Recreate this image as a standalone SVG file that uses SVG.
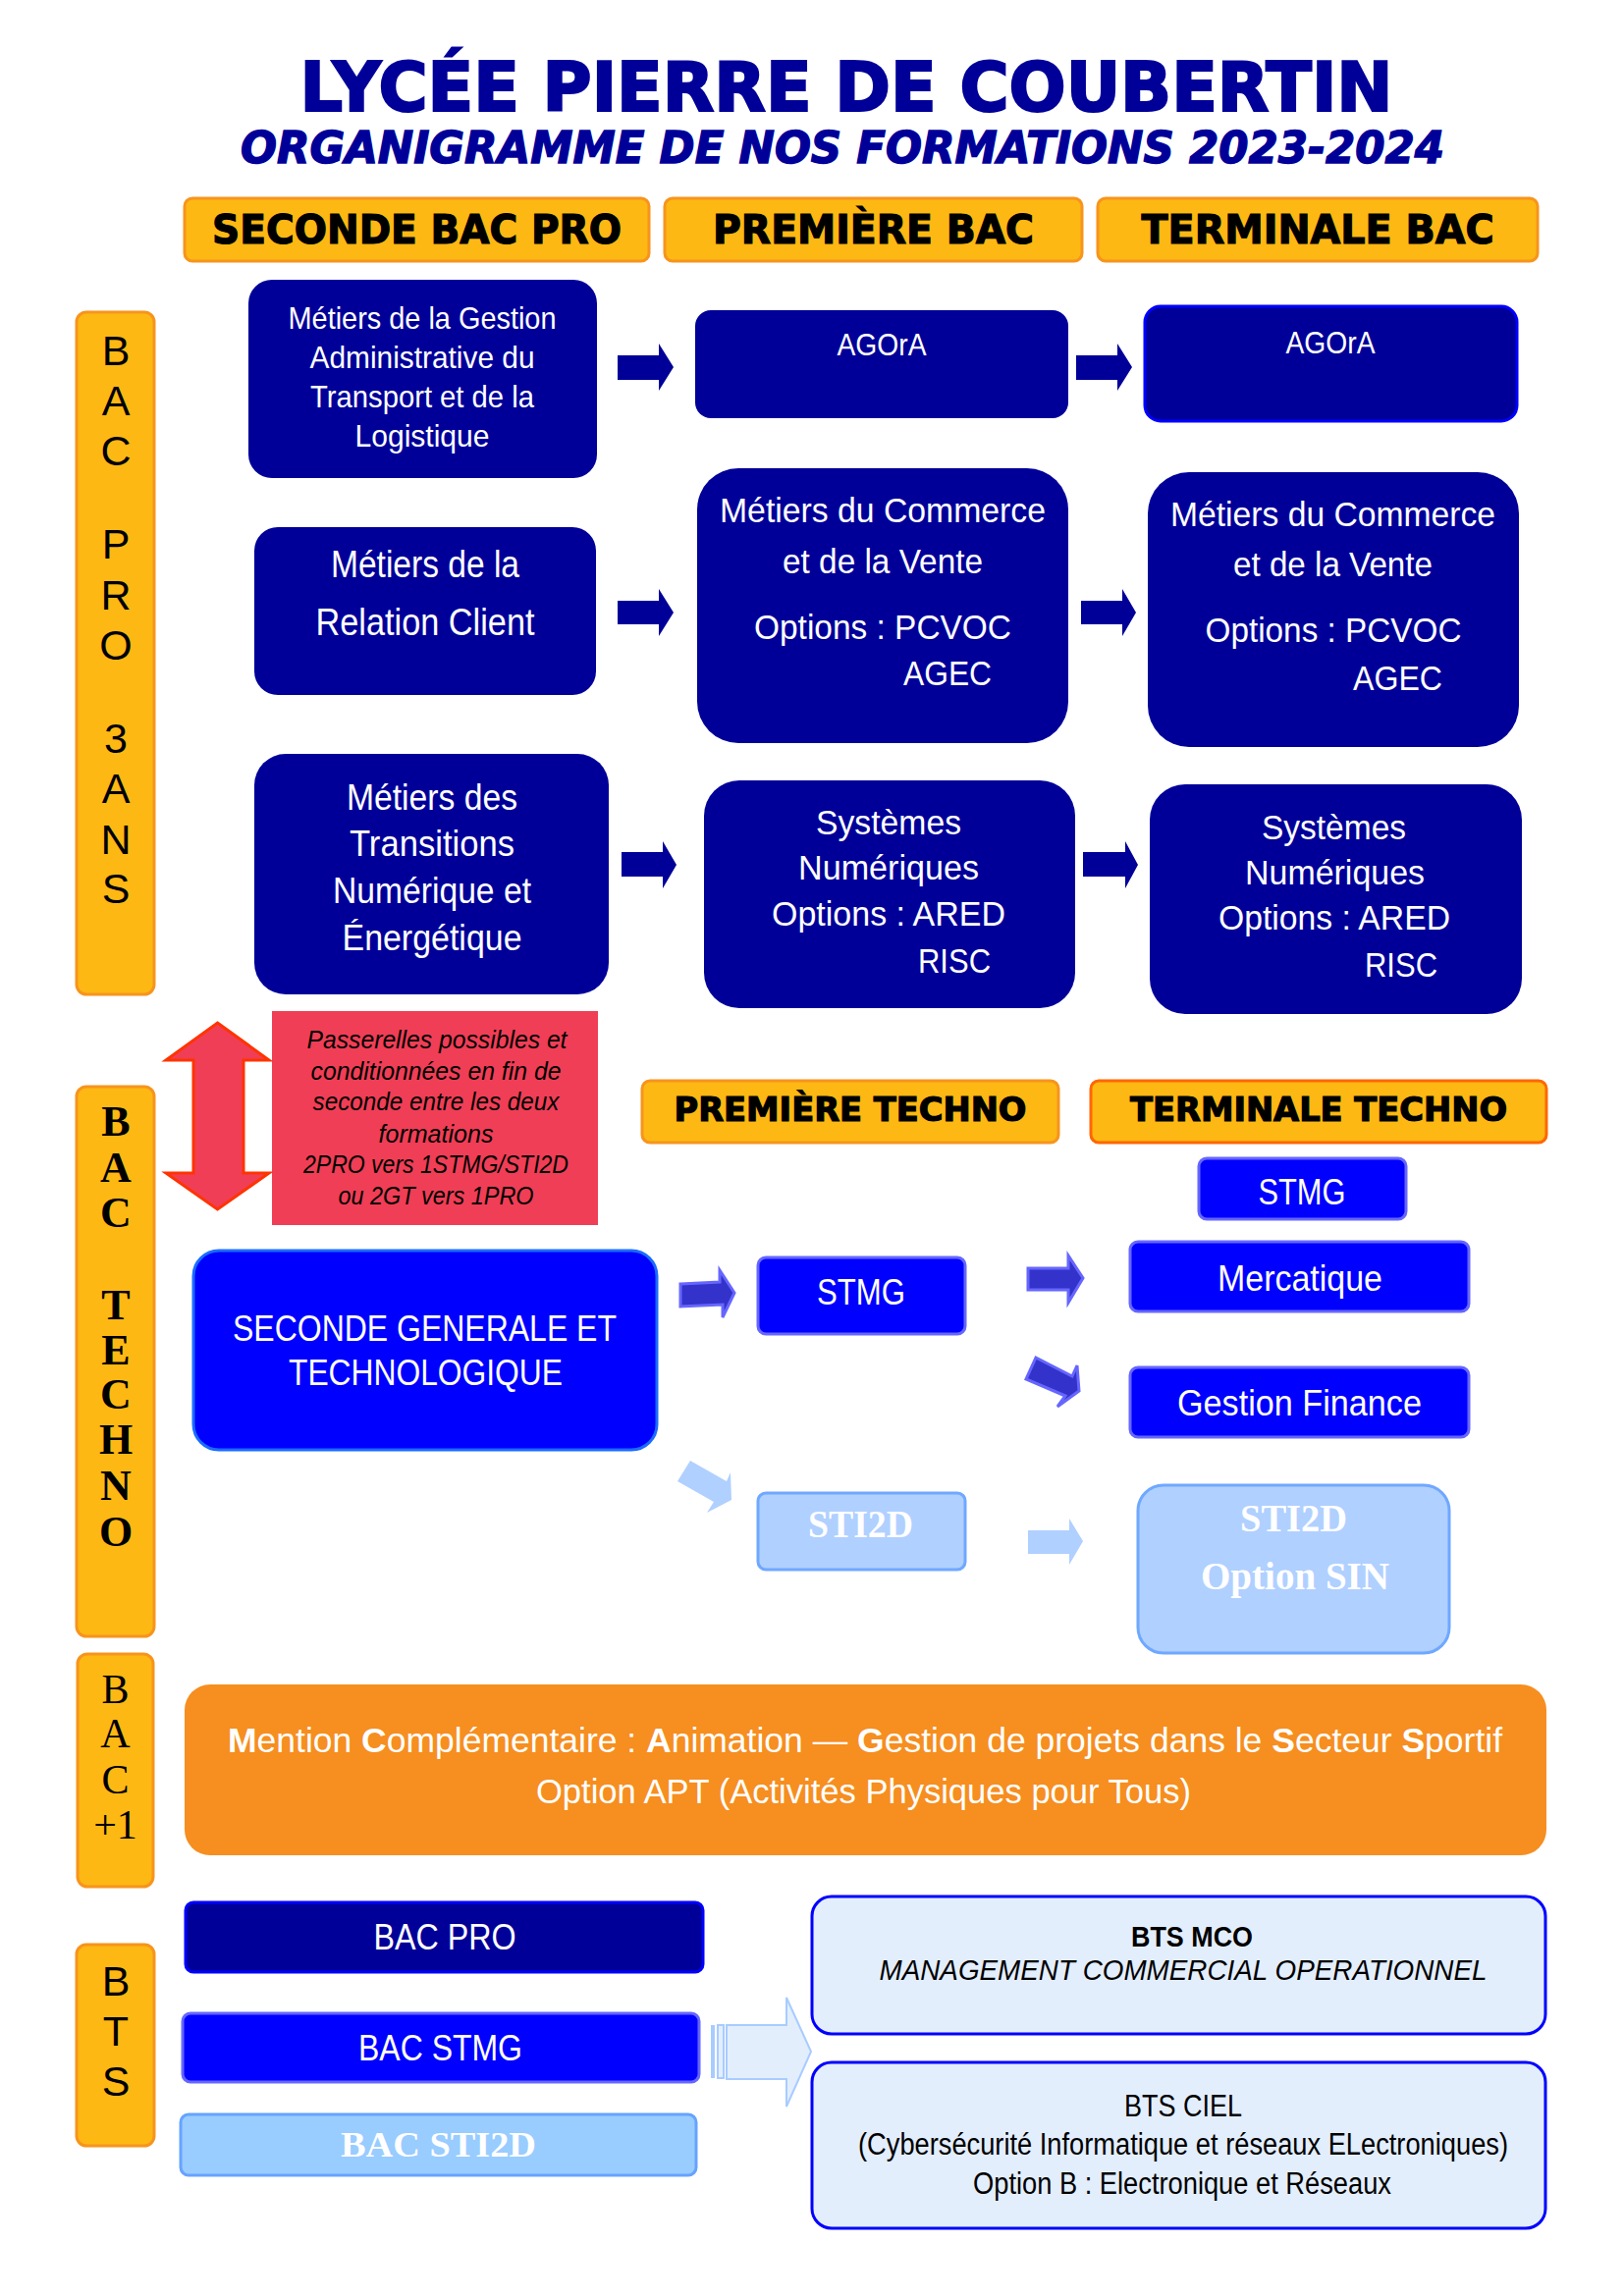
<svg xmlns="http://www.w3.org/2000/svg" width="1654" height="2339" viewBox="0 0 1654 2339">
<style>
.bg{fill:#fff}
.hdr{fill:#FDB813;stroke:#F7941D;stroke-width:3}
.side{fill:#FDB813;stroke:#F7941D;stroke-width:3}
.navy{fill:#000099}
.blue{fill:#0000FF;stroke:#6666FF;stroke-width:3}
.light{fill:#B0D0FF;stroke:#6FA8FF;stroke-width:3}
.t{font-family:"Liberation Sans",Arial,sans-serif;fill:#fff;text-anchor:middle}
.h{font-family:"DejaVu Sans","Liberation Sans",sans-serif;font-weight:bold;fill:#000;stroke:#000;stroke-width:1.2;text-anchor:middle}
.sl{font-family:"Liberation Sans",Arial,sans-serif;fill:#000;text-anchor:middle;font-size:43px}
.ss{font-family:"Liberation Serif","Times New Roman",serif;fill:#000;text-anchor:middle}
.sw{font-family:"Liberation Serif","Times New Roman",serif;fill:#fff;font-weight:bold;text-anchor:middle}
.k{font-family:"Liberation Sans",Arial,sans-serif;fill:#000;text-anchor:middle}
.a1{fill:#000099}
.a2{fill:#3333CC;stroke:#6666FF;stroke-width:3;stroke-linejoin:miter}
.a3{fill:#B0D0FF}
</style>
<rect class="bg" x="0" y="0" width="1654" height="2339"/>

<g id="title">
<text x="862" y="113" font-family="DejaVu Sans, Liberation Sans, sans-serif" font-weight="bold" font-size="69" fill="#000099" stroke="#000099" stroke-width="2.2" text-anchor="middle" textLength="1113" lengthAdjust="spacingAndGlyphs">LYCÉE PIERRE DE COUBERTIN</text>
<text x="858" y="166" font-family="DejaVu Sans, Liberation Sans, sans-serif" font-weight="bold" font-style="italic" font-size="45" fill="#000099" stroke="#000099" stroke-width="1.4" text-anchor="middle" textLength="1226" lengthAdjust="spacingAndGlyphs">ORGANIGRAMME DE NOS FORMATIONS 2023-2024</text>
</g>

<g id="hdr-seconde-pro"><rect class="hdr" x="188" y="202" width="473" height="64" rx="8"/><text class="h" x="424.5" y="248" font-size="41" textLength="417" lengthAdjust="spacingAndGlyphs">SECONDE BAC PRO</text></g>
<g id="hdr-premiere-bac"><rect class="hdr" x="677" y="202" width="425" height="64" rx="8"/><text class="h" x="889.5" y="248" font-size="41" textLength="327" lengthAdjust="spacingAndGlyphs">PREMIÈRE BAC</text></g>
<g id="hdr-terminale-bac"><rect class="hdr" x="1118" y="202" width="448" height="64" rx="8"/><text class="h" x="1342" y="248" font-size="41" textLength="359" lengthAdjust="spacingAndGlyphs">TERMINALE BAC</text></g>

<g id="side-bacpro">
<rect class="side" x="78" y="318" width="79" height="695" rx="10"/>
<text class="sl" x="118" y="372">B</text><text class="sl" x="118" y="423">A</text><text class="sl" x="118" y="474">C</text>
<text class="sl" x="118" y="569">P</text><text class="sl" x="118" y="621">R</text><text class="sl" x="118" y="672">O</text>
<text class="sl" x="118" y="767">3</text><text class="sl" x="118" y="818">A</text><text class="sl" x="118" y="870">N</text><text class="sl" x="118" y="920">S</text>
</g>

<g id="box-gatl">
<rect class="navy" x="253" y="285" width="355" height="202" rx="24"/>
<text class="t" x="430" y="335" font-size="32" textLength="273" lengthAdjust="spacingAndGlyphs">Métiers de la Gestion</text>
<text class="t" x="430" y="375" font-size="32" textLength="229" lengthAdjust="spacingAndGlyphs">Administrative du</text>
<text class="t" x="430" y="415" font-size="32" textLength="228" lengthAdjust="spacingAndGlyphs">Transport et de la</text>
<text class="t" x="430" y="455" font-size="32" textLength="137" lengthAdjust="spacingAndGlyphs">Logistique</text>
</g>
<g id="box-relation">
<rect class="navy" x="259" y="537" width="348" height="171" rx="24"/>
<text class="t" x="433" y="588" font-size="39" textLength="192" lengthAdjust="spacingAndGlyphs">Métiers de la</text>
<text class="t" x="433" y="647" font-size="39" textLength="223" lengthAdjust="spacingAndGlyphs">Relation Client</text>
</g>
<g id="box-transitions">
<rect class="navy" x="259" y="768" width="361" height="245" rx="32"/>
<text class="t" x="440" y="825" font-size="37" textLength="174" lengthAdjust="spacingAndGlyphs">Métiers des</text>
<text class="t" x="440" y="872" font-size="37" textLength="168" lengthAdjust="spacingAndGlyphs">Transitions</text>
<text class="t" x="440" y="920" font-size="37" textLength="202" lengthAdjust="spacingAndGlyphs">Numérique et</text>
<text class="t" x="440" y="968" font-size="37" textLength="183" lengthAdjust="spacingAndGlyphs">Énergétique</text>
</g>
<g id="box-agora-1">
<rect class="navy" x="708" y="316" width="380" height="110" rx="16"/>
<text class="t" x="898" y="362" font-size="31" textLength="91" lengthAdjust="spacingAndGlyphs">AGOrA</text>
</g>
<g id="box-agora-t">
<rect x="1166" y="312" width="379" height="117" rx="16" fill="#000099" stroke="#0000FF" stroke-width="3"/>
<text class="t" x="1355" y="360" font-size="31" textLength="91" lengthAdjust="spacingAndGlyphs">AGOrA</text>
</g>
<g id="box-mcv-1">
<rect class="navy" x="710" y="477" width="378" height="280" rx="42"/>
<text class="t" x="899" y="532" font-size="35" textLength="332" lengthAdjust="spacingAndGlyphs">Métiers du Commerce</text>
<text class="t" x="899" y="584" font-size="35" textLength="204" lengthAdjust="spacingAndGlyphs">et de la Vente</text>
<text class="t" x="899" y="651" font-size="35" textLength="262" lengthAdjust="spacingAndGlyphs">Options : PCVOC</text>
<text class="t" x="965" y="698" font-size="35" textLength="90" lengthAdjust="spacingAndGlyphs">AGEC</text>
</g>
<g id="box-mcv-t">
<rect class="navy" x="1169" y="481" width="378" height="280" rx="42"/>
<text class="t" x="1357.5" y="536" font-size="35" textLength="331" lengthAdjust="spacingAndGlyphs">Métiers du Commerce</text>
<text class="t" x="1357.5" y="587" font-size="35" textLength="203" lengthAdjust="spacingAndGlyphs">et de la Vente</text>
<text class="t" x="1358" y="654" font-size="35" textLength="261" lengthAdjust="spacingAndGlyphs">Options : PCVOC</text>
<text class="t" x="1423.5" y="703" font-size="35" textLength="91" lengthAdjust="spacingAndGlyphs">AGEC</text>
</g>
<g id="box-sn-1">
<rect class="navy" x="717" y="795" width="378" height="232" rx="36"/>
<text class="t" x="905" y="850" font-size="35" textLength="148" lengthAdjust="spacingAndGlyphs">Systèmes</text>
<text class="t" x="905" y="896" font-size="35" textLength="184" lengthAdjust="spacingAndGlyphs">Numériques</text>
<text class="t" x="905" y="943" font-size="35" textLength="238" lengthAdjust="spacingAndGlyphs">Options : ARED</text>
<text class="t" x="972" y="991" font-size="35" textLength="74" lengthAdjust="spacingAndGlyphs">RISC</text>
</g>
<g id="box-sn-t">
<rect class="navy" x="1171" y="799" width="379" height="234" rx="36"/>
<text class="t" x="1358.5" y="855" font-size="35" textLength="147" lengthAdjust="spacingAndGlyphs">Systèmes</text>
<text class="t" x="1359.5" y="901" font-size="35" textLength="183" lengthAdjust="spacingAndGlyphs">Numériques</text>
<text class="t" x="1359" y="947" font-size="35" textLength="236" lengthAdjust="spacingAndGlyphs">Options : ARED</text>
<text class="t" x="1427" y="995" font-size="35" textLength="74" lengthAdjust="spacingAndGlyphs">RISC</text>
</g>

<g id="passerelles">
<rect x="277" y="1030" width="332" height="218" fill="#F03E56"/>
<g class="k" font-style="italic" font-size="25">
<text x="445" y="1068" textLength="265" lengthAdjust="spacingAndGlyphs">Passerelles possibles et</text>
<text x="444" y="1100" textLength="255" lengthAdjust="spacingAndGlyphs">conditionnées en fin de</text>
<text x="444" y="1131" textLength="251" lengthAdjust="spacingAndGlyphs">seconde entre les deux</text>
<text x="444" y="1164" textLength="117" lengthAdjust="spacingAndGlyphs">formations</text>
<text x="444" y="1195" textLength="270" lengthAdjust="spacingAndGlyphs">2PRO vers 1STMG/STI2D</text>
<text x="444" y="1227" textLength="199" lengthAdjust="spacingAndGlyphs">ou 2GT vers 1PRO</text>
</g>
</g>

<g id="side-bactechno">
<rect class="side" x="78" y="1107" width="79" height="560" rx="10"/>
<g class="ss" font-weight="bold" font-size="44">
<text x="118" y="1157">B</text><text x="118" y="1204">A</text><text x="118" y="1250">C</text>
<text x="118" y="1344">T</text><text x="118" y="1390">E</text><text x="118" y="1435">C</text><text x="118" y="1481">H</text><text x="118" y="1528">N</text><text x="118" y="1575">O</text>
</g>
</g>

<g id="hdr-premiere-techno"><rect class="hdr" x="654" y="1101" width="424" height="63" rx="8"/><text class="h" x="866" y="1142" font-size="33" textLength="359" lengthAdjust="spacingAndGlyphs">PREMIÈRE TECHNO</text></g>
<g id="hdr-terminale-techno"><rect x="1111" y="1101" width="464" height="63" rx="8" fill="#FDB813" stroke="#FF6600" stroke-width="3"/><text class="h" x="1343" y="1142" font-size="33" textLength="384" lengthAdjust="spacingAndGlyphs">TERMINALE TECHNO</text></g>

<g id="box-seconde-gt">
<rect x="197" y="1274" width="472" height="203" rx="26" fill="#0000FF" stroke="#1A6CFF" stroke-width="3"/>
<text class="t" x="432.5" y="1366" font-size="37" textLength="391" lengthAdjust="spacingAndGlyphs">SECONDE GENERALE ET</text>
<text class="t" x="433.5" y="1411" font-size="37" textLength="279" lengthAdjust="spacingAndGlyphs">TECHNOLOGIQUE</text>
</g>
<g id="box-stmg-t-title">
<rect class="blue" x="1221" y="1180" width="211" height="62" rx="8"/>
<text class="t" x="1326" y="1227" font-size="37" textLength="89" lengthAdjust="spacingAndGlyphs">STMG</text>
</g>
<g id="box-stmg-1">
<rect class="blue" x="772" y="1281" width="211" height="78" rx="8"/>
<text class="t" x="877" y="1329" font-size="37" textLength="90" lengthAdjust="spacingAndGlyphs">STMG</text>
</g>
<g id="box-mercatique">
<rect class="blue" x="1151" y="1265" width="345" height="71" rx="8"/>
<text class="t" x="1324" y="1315" font-size="37" textLength="168" lengthAdjust="spacingAndGlyphs">Mercatique</text>
</g>
<g id="box-gestion-finance">
<rect class="blue" x="1151" y="1393" width="345" height="71" rx="8"/>
<text class="t" x="1323.5" y="1442" font-size="37" textLength="249" lengthAdjust="spacingAndGlyphs">Gestion Finance</text>
</g>
<g id="box-sti2d-1">
<rect class="light" x="772" y="1521" width="211" height="78" rx="8"/>
<text class="sw" x="876.5" y="1566" font-size="40" textLength="107" lengthAdjust="spacingAndGlyphs">STI2D</text>
</g>
<g id="box-sti2d-sin">
<rect class="light" x="1159" y="1513" width="317" height="171" rx="26"/>
<text class="sw" x="1317.5" y="1560" font-size="40" textLength="109" lengthAdjust="spacingAndGlyphs">STI2D</text>
<text class="sw" x="1319" y="1619" font-size="40" textLength="192" lengthAdjust="spacingAndGlyphs">Option SIN</text>
</g>

<g id="side-bac1">
<rect class="side" x="79" y="1685" width="77" height="237" rx="10"/>
<g class="ss" font-size="42">
<text x="117.5" y="1735">B</text><text x="117.5" y="1780">A</text><text x="117.5" y="1827">C</text><text x="117.5" y="1873">+1</text>
</g>
</g>
<g id="box-mention">
<rect x="188" y="1716" width="1387" height="174" rx="26" fill="#F68E20"/>
<text class="t" x="881" y="1785" font-size="35" textLength="1298" lengthAdjust="spacingAndGlyphs"><tspan font-weight="bold">M</tspan>ention <tspan font-weight="bold">C</tspan>omplémentaire : <tspan font-weight="bold">A</tspan>nimation — <tspan font-weight="bold">G</tspan>estion de projets dans le <tspan font-weight="bold">S</tspan>ecteur <tspan font-weight="bold">S</tspan>portif</text>
<text class="t" x="879.5" y="1837" font-size="35" textLength="667" lengthAdjust="spacingAndGlyphs">Option APT (Activités Physiques pour Tous)</text>
</g>

<g id="side-bts">
<rect class="side" x="78" y="1981" width="79" height="205" rx="10"/>
<text class="sl" x="118" y="2033">B</text><text class="sl" x="118" y="2084">T</text><text class="sl" x="118" y="2135">S</text>
</g>
<g id="box-bacpro">
<rect x="189" y="1938" width="527" height="71" rx="8" fill="#000099" stroke="#0000FF" stroke-width="3"/>
<text class="t" x="453" y="1986" font-size="37" textLength="145" lengthAdjust="spacingAndGlyphs">BAC PRO</text>
</g>
<g id="box-bacstmg">
<rect class="blue" x="186" y="2051" width="526" height="70" rx="8"/>
<text class="t" x="448.5" y="2099" font-size="37" textLength="167" lengthAdjust="spacingAndGlyphs">BAC STMG</text>
</g>
<g id="box-bacsti2d">
<rect x="184" y="2154" width="525" height="62" rx="8" fill="#99CCFF" stroke="#66A3FF" stroke-width="3"/>
<text class="sw" x="446.5" y="2197" font-size="36" textLength="199" lengthAdjust="spacingAndGlyphs">BAC STI2D</text>
</g>
<g id="box-bts-mco">
<rect x="827" y="1932" width="747" height="140" rx="20" fill="#E3EEFD" stroke="#0000FF" stroke-width="3"/>
<text class="k" x="1214" y="1983" font-size="29" font-weight="bold" textLength="124" lengthAdjust="spacingAndGlyphs">BTS MCO</text>
<text class="k" x="1205" y="2017" font-size="30" font-style="italic" textLength="619" lengthAdjust="spacingAndGlyphs">MANAGEMENT COMMERCIAL OPERATIONNEL</text>
</g>
<g id="box-bts-ciel">
<rect x="827" y="2101" width="747" height="169" rx="20" fill="#E3EEFD" stroke="#0000FF" stroke-width="3"/>
<text class="k" x="1205" y="2156" font-size="31" textLength="120" lengthAdjust="spacingAndGlyphs">BTS CIEL</text>
<text class="k" x="1205" y="2195" font-size="31" textLength="662" lengthAdjust="spacingAndGlyphs">(Cybersécurité Informatique et réseaux ELectroniques)</text>
<text class="k" x="1204" y="2235" font-size="31" textLength="426" lengthAdjust="spacingAndGlyphs">Option B : Electronique et Réseaux</text>
</g>

<g id="connectors">
<polygon class="a1" points="629,362 671,362 671,350 686,374 671,398 671,387 629,387"/>
<polygon class="a1" points="629,612 671,612 671,600 686,624 671,648 671,636 629,636"/>
<polygon class="a1" points="1096,362 1138,362 1138,350 1153,374 1138,398 1138,387 1096,387"/>
<polygon class="a1" points="1101,612 1143,612 1143,600 1157,624 1143,648 1143,636 1101,636"/>
<polygon class="a1" points="633,868 675,868 675,857 689,881 675,905 675,893 633,893"/>
<polygon class="a1" points="1103,868 1146,868 1146,857 1159,881 1146,905 1146,893 1103,893"/>
<polygon class="a2" points="693,1308 733,1306 733,1294 748,1317 736,1342 736,1329 693,1331"/>
<polygon class="a2" points="1047,1292 1088,1292 1088,1279 1103,1302 1088,1327 1088,1314 1047,1314"/>
<polygon class="a2" points="1055,1383 1092,1402 1097,1391 1099,1417 1077,1433 1085,1422 1045,1405"/>
<polygon class="a3" points="703,1488 740,1509 744,1500 745,1528 720,1541 727,1530 690,1509"/>
<polygon class="a3" points="1047,1559 1089,1559 1089,1547 1103,1570 1089,1594 1089,1583 1047,1583"/>
<polygon points="221.5,1042 274,1080 248,1080 248,1195 274,1195 221.5,1232 169,1195 197,1195 197,1080 169,1080" fill="#F03E56" stroke="#FF3300" stroke-width="3" stroke-linejoin="miter"/>
<g fill="#E3EEFD" stroke="#A8CCFF" stroke-width="2">
<rect x="724" y="2063" width="4" height="54" fill="#A8CCFF" stroke="none"/>
<rect x="731" y="2063" width="6" height="54"/>
<polygon points="740,2063 801,2063 801,2035 826,2090 801,2146 801,2118 740,2118"/>
</g>
</g>
</svg>
